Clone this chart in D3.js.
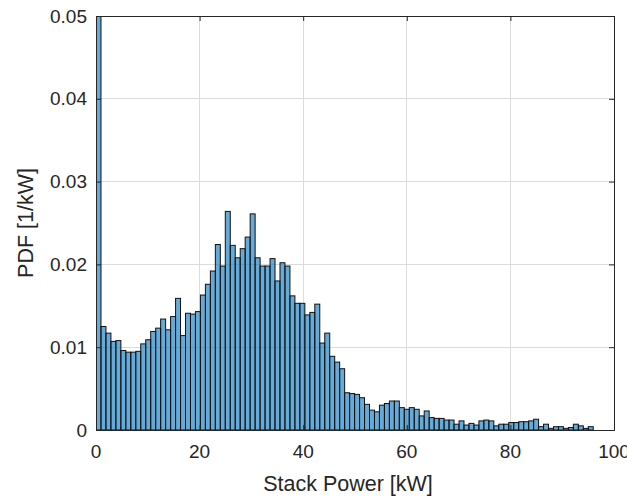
<!DOCTYPE html>
<html>
<head>
<meta charset="utf-8">
<script src="https://cdn.jsdelivr.net/npm/d3@7"></script>
<style>
  html, body { margin: 0; padding: 0; background: #fff; }
  svg { display: block; }
  text { font-family: "Liberation Sans", Arial, Helvetica, sans-serif; fill: #262626; }
</style>
</head>
<body>
<svg id="chart" width="627" height="499"></svg>
<script>
// ---- data ----
const binWidth = 0.96;               // kW
const pdfValues = [
  0.09, 0.0125, 0.0117, 0.0107, 0.0108, 0.0096, 0.0094, 0.0094, 0.0095, 0.0104,
  0.0109, 0.0119, 0.0123, 0.0134, 0.0121, 0.0137, 0.0159, 0.0114, 0.0141, 0.0140,
  0.0143, 0.0163, 0.0176, 0.0192, 0.0224, 0.0198, 0.0264, 0.0223, 0.0208, 0.0219,
  0.0233, 0.0261, 0.0208, 0.0198, 0.0198, 0.0207, 0.0180, 0.0202, 0.0198, 0.0162,
  0.0153, 0.0153, 0.0139, 0.0142, 0.0152, 0.0105, 0.0117, 0.0089, 0.0082, 0.0074,
  0.0045, 0.0044, 0.0043, 0.0039, 0.0031, 0.0024, 0.0022, 0.0030, 0.0032, 0.0035,
  0.0035, 0.0027, 0.0025, 0.0027, 0.0025, 0.0017, 0.0023, 0.0015, 0.0014, 0.0014,
  0.0012, 0.0012, 0.0007, 0.0011, 0.0006, 0.0008, 0.0006, 0.0011, 0.0012, 0.0011,
  0.0005, 0.0007, 0.0007, 0.0009, 0.0009, 0.0010, 0.0010, 0.0011, 0.0013, 0.0004,
  0.0007, 0.0002, 0.0004, 0.0004, 0.0002, 0.0003, 0.0007, 0.0005, 0.0002, 0.0004
];
const xTicks = [0, 20, 40, 60, 80, 100];
const yTicks = [0, 0.01, 0.02, 0.03, 0.04, 0.05];
const xTickLabels = ["0", "20", "40", "60", "80", "100"];
const yTickLabels = ["0", "0.01", "0.02", "0.03", "0.04", "0.05"];
const xLabel = "Stack Power [kW]";
const yLabel = "PDF [1/kW]";

// ---- layout ----
const W = 627, H = 499;
const margin = { top: 16, right: 13, bottom: 69, left: 96 };
const iw = W - margin.left - margin.right;
const ih = H - margin.top - margin.bottom;
const axisColor = "#262626";

const svg = d3.select("#chart");
const x = d3.scaleLinear().domain([0, 100]).range([0, iw]);
const y = d3.scaleLinear().domain([0, 0.05]).range([ih, 0]);

const g = svg.append("g").attr("transform", `translate(${margin.left},${margin.top})`);

svg.append("defs").append("clipPath").attr("id", "clip")
  .append("rect").attr("x", 0).attr("y", 0).attr("width", iw).attr("height", ih);

// grid
const grid = g.append("g");
grid.selectAll(".gx").data(xTicks.slice(1, -1)).join("line")
  .attr("x1", d => x(d)).attr("x2", d => x(d)).attr("y1", 0).attr("y2", ih)
  .attr("stroke", "#dcdcdc").attr("stroke-width", 1).attr("shape-rendering", "crispEdges");
grid.selectAll(".gy").data(yTicks.slice(1, -1)).join("line")
  .attr("y1", d => y(d)).attr("y2", d => y(d)).attr("x1", 0).attr("x2", iw)
  .attr("stroke", "#dcdcdc").attr("stroke-width", 1).attr("shape-rendering", "crispEdges");

// bars
const bins = pdfValues.map((v, i) => ({ x0: i * binWidth, x1: (i + 1) * binWidth, v }));
g.append("g").attr("clip-path", "url(#clip)")
  .selectAll("rect").data(bins).join("rect")
  .attr("x", d => x(d.x0))
  .attr("width", d => x(d.x1) - x(d.x0))
  .attr("y", d => y(d.v))
  .attr("height", d => y(0) - y(d.v))
  .attr("fill", "rgb(0,114,189)")
  .attr("fill-opacity", 0.6)
  .attr("stroke", "#111")
  .attr("stroke-width", 1);

// axes (ticks inside, box on)
const tickLen = 5;
const xAxisB = d3.axisBottom(x).tickValues(xTicks).tickSize(-tickLen).tickFormat(() => "");
const xAxisT = d3.axisTop(x).tickValues(xTicks).tickSize(-tickLen).tickFormat(() => "");
const yAxisL = d3.axisLeft(y).tickValues(yTicks).tickSize(-tickLen).tickFormat(() => "");
const yAxisR = d3.axisRight(y).tickValues(yTicks).tickSize(-tickLen).tickFormat(() => "");

function styleAxis(sel) {
  sel.selectAll("path").attr("stroke", axisColor).attr("stroke-width", 1);
  sel.selectAll("line").attr("stroke", axisColor).attr("stroke-width", 1);
}
g.append("g").attr("transform", `translate(0,${ih})`).call(xAxisB).call(styleAxis);
g.append("g").call(xAxisT).call(styleAxis);
g.append("g").call(yAxisL).call(styleAxis);
g.append("g").attr("transform", `translate(${iw},0)`).call(yAxisR).call(styleAxis);

// tick labels
g.append("g").selectAll("text").data(xTicks).join("text")
  .attr("x", d => x(d)).attr("y", ih + 28)
  .attr("text-anchor", "middle")
  .style("font-size", "19px")
  .text((d, i) => xTickLabels[i]);

g.append("g").selectAll("text").data(yTicks).join("text")
  .attr("x", -9).attr("y", d => y(d))
  .attr("dy", "0.35em")
  .attr("text-anchor", "end")
  .style("font-size", "19px")
  .text((d, i) => yTickLabels[i]);

// axis labels
svg.append("text")
  .attr("x", 348).attr("y", 491)
  .attr("text-anchor", "middle")
  .style("font-size", "21.5px")
  .text(xLabel);

svg.append("text")
  .attr("transform", `translate(33,${margin.top + ih / 2}) rotate(-90)`)
  .attr("text-anchor", "middle")
  .style("font-size", "21.5px")
  .text(yLabel);
</script>
</body>
</html>
